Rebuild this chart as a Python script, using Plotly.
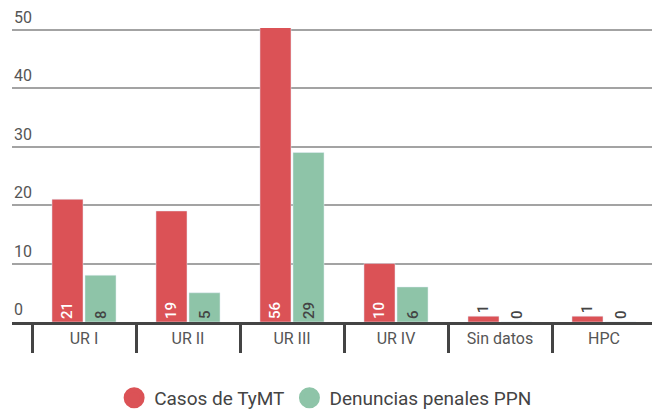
import plotly.graph_objects as go

categories = ["UR I", "UR II", "UR III", "UR IV", "Sin datos", "HPC"]
casos_tymt = [21, 19, 56, 10, 1, 1]
denuncias_ppn = [8, 5, 29, 6, 0, 0]
series_names = ["Casos de TyMT", "Denuncias penales PPN"]
y_ticks = [0, 10, 20, 30, 40, 50]

RED = "#DB5256"
GREEN = "#8EC4A8"
DARK = "#444444"
LABEL = "#555555"
FONT = "Roboto"

n = len(categories)
x_lo = -0.5 - 20 / 104
x_hi = n - 0.5 + 4 / 104


def positions(vals):
    return ["inside" if v >= 3 else "outside" for v in vals]


fig = go.Figure()
fig.add_trace(go.Bar(
    x=categories, y=casos_tymt, name=series_names[0], marker_color=RED,
    text=[str(v) for v in casos_tymt], textposition=positions(casos_tymt),
    textangle=-90, insidetextanchor="start", showlegend=False,
    insidetextfont=dict(color="white", size=15, family=FONT, weight=500),
    outsidetextfont=dict(color=DARK, size=15, family=FONT, weight=500),
    cliponaxis=True, constraintext="none",
))
fig.add_trace(go.Bar(
    x=categories, y=denuncias_ppn, name=series_names[1], marker_color=GREEN,
    text=[str(v) for v in denuncias_ppn], textposition=positions(denuncias_ppn),
    textangle=-90, insidetextanchor="start", showlegend=False,
    insidetextfont=dict(color=DARK, size=15, family=FONT, weight=500),
    outsidetextfont=dict(color=DARK, size=15, family=FONT, weight=500),
    cliponaxis=True, constraintext="none",
))
for name, col in zip(series_names, [RED, GREEN]):
    fig.add_trace(go.Scatter(
        x=[None], y=[None], mode="markers", name=name, xaxis="x2",
        marker=dict(symbol="circle", size=22, color=col,
                    line=dict(width=6, color=col)),
    ))

annotations = [
    dict(x=0, xref="paper", xanchor="left", y=v, yref="y", yanchor="bottom",
         text=str(v), showarrow=False, yshift=1,
         font=dict(size=16, color=LABEL, family=FONT))
    for v in y_ticks
]

fig.update_layout(
    width=660, height=410,
    margin=dict(l=4, r=8, t=20, b=96, autoexpand=False),
    paper_bgcolor="white", plot_bgcolor="white",
    font=dict(family=FONT, color=DARK, size=16),
    barmode="group", bargap=0.365, bargroupgap=0.06,
    showlegend=True,
    legend=dict(orientation="h", x=0.484, xanchor="center",
                y=-0.258, yanchor="middle", font=dict(size=19, color=DARK, family=FONT)),
    annotations=annotations,
    xaxis=dict(
        type="category", categoryorder="array", categoryarray=categories,
        range=[x_lo, x_hi], showline=True, linewidth=3, linecolor=DARK,
        ticks="", showgrid=False, tickfont=dict(size=16, color=LABEL),
        tickangle=0, fixedrange=True,
    ),
    xaxis2=dict(
        overlaying="x", anchor="y", side="bottom", range=[x_lo, x_hi],
        tickmode="array", tickvals=[i - 0.5 for i in range(n + 1)],
        ticks="outside", ticklen=30, tickwidth=2.5, tickcolor=DARK,
        showticklabels=False, showgrid=False, showline=False, zeroline=False,
    ),
    yaxis=dict(
        range=[0, 50.3], tickvals=y_ticks, showgrid=True, gridcolor="#A3A3A3",
        gridwidth=2, zeroline=False, showticklabels=False, showline=False,
    ),
)

fig.write_html("out.html")
